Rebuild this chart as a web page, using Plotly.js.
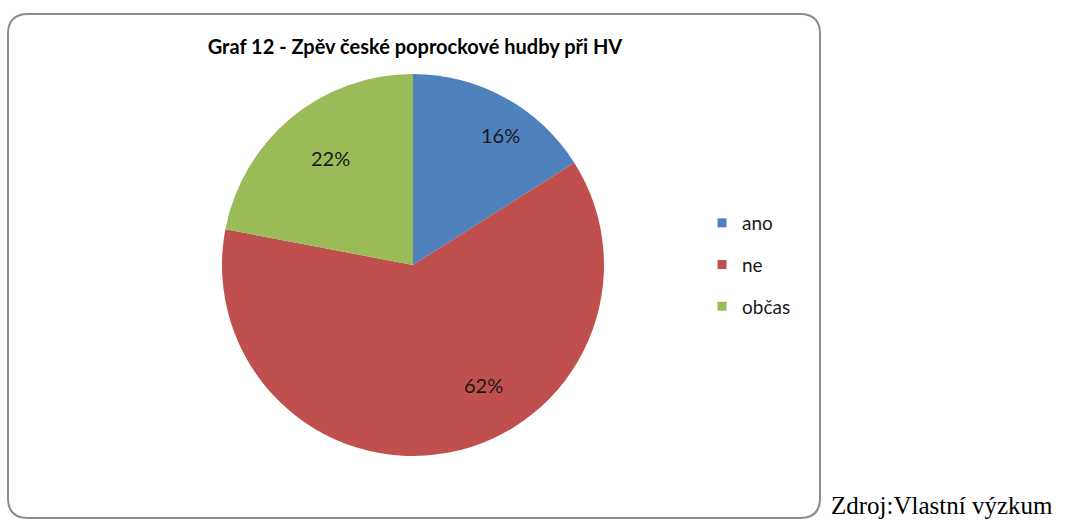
<!DOCTYPE html>
<html><head><meta charset="utf-8">
<script src="https://cdn.plot.ly/plotly-3.0.1.min.js"></script>
<style>html,body{margin:0;padding:0;background:#fff}#chart{width:1065px;height:521px}</style>
</head><body><div id="chart"></div>
<script>
const categories = ["ano", "ne", "občas"];
const values = [16, 62, 22];
const colors = ["#4F81BD", "#C0504D", "#9BBB59"];
const chartTitle = "Graf 12 - Zpěv české poprockové hudby při HV";
const sourceNote = "Zdroj:Vlastní výzkum";

const W = 1065, H = 521;
const px = x => x / W;
const py = y => 1 - y / H;

// pie geometry (pixels)
const cx = 413, cy = 265, r = 191;
// data-label placement (pixels), as in the original "best fit" layout
const labelPos = [[500, 135], [483, 385], [330, 158]];

const total = values.reduce((a, b) => a + b, 0);
const traces = [{
  type: "pie",
  labels: categories,
  values: values,
  sort: false,
  direction: "clockwise",
  rotation: 0,
  marker: {colors: colors, line: {width: 0}},
  textinfo: "none",
  domain: {x: [px(cx - r), px(cx + r)], y: [py(cy + r), py(cy - r)]},
  showlegend: false,
  hoverinfo: "label+percent"
}];
categories.forEach((c, i) => {
  traces.push({
    type: "scatter", mode: "markers", x: [null], y: [null], name: c,
    legendgroup: c, marker: {symbol: "square", size: 9, color: colors[i]},
    showlegend: true, hoverinfo: "skip"
  });
});

// rounded border
const x0 = 8, y0 = 14, x1 = 820, y1 = 518, rr = 20;
const P = (x, y) => px(x) + "," + py(y);
const path = "M" + P(x0 + rr, y0) + " L" + P(x1 - rr, y0) + " Q" + P(x1, y0) + " " + P(x1, y0 + rr) +
  " L" + P(x1, y1 - rr) + " Q" + P(x1, y1) + " " + P(x1 - rr, y1) +
  " L" + P(x0 + rr, y1) + " Q" + P(x0, y1) + " " + P(x0, y1 - rr) +
  " L" + P(x0, y0 + rr) + " Q" + P(x0, y0) + " " + P(x0 + rr, y0) + " Z";

const annotations = values.map((v, i) => ({
  text: Math.round(v / total * 100) + "%", xref: "paper", yref: "paper",
  x: px(labelPos[i][0]), y: py(labelPos[i][1]), xanchor: "center", yanchor: "middle",
  showarrow: false, font: {family: "Lato, sans-serif", size: 20, color: "#1a1a1a"}
}));
annotations.push({text: sourceNote, xref: "paper", yref: "paper", x: px(829), y: py(505), xanchor: "left", yanchor: "middle",
  showarrow: false, font: {family: "Liberation Serif, serif", size: 25, color: "#000"}});

const layout = {
  width: W, height: H,
  margin: {l: 0, r: 0, t: 0, b: 0},
  paper_bgcolor: "#fff", plot_bgcolor: "#fff",
  xaxis: {visible: false, range: [0, 1]},
  yaxis: {visible: false, range: [0, 1]},
  title: {text: "<b>" + chartTitle + "</b>", x: px(415), xanchor: "center", y: py(47), yanchor: "middle",
          font: {family: "Lato, sans-serif", size: 20, color: "#000"}},
  showlegend: true,
  legend: {x: px(702), y: py(204), xanchor: "left", yanchor: "top", traceorder: "grouped",
           tracegroupgap: 14, font: {family: "Lato, sans-serif", size: 19, color: "#1a1a1a"},
           itemwidth: 30, bgcolor: "rgba(0,0,0,0)"},
  shapes: [{type: "path", xref: "paper", yref: "paper", path: path, line: {color: "#8c8c8c", width: 2}}],
  annotations: annotations
};
Plotly.newPlot("chart", traces, layout, {displayModeBar: false, staticPlot: true});
</script></body></html>
